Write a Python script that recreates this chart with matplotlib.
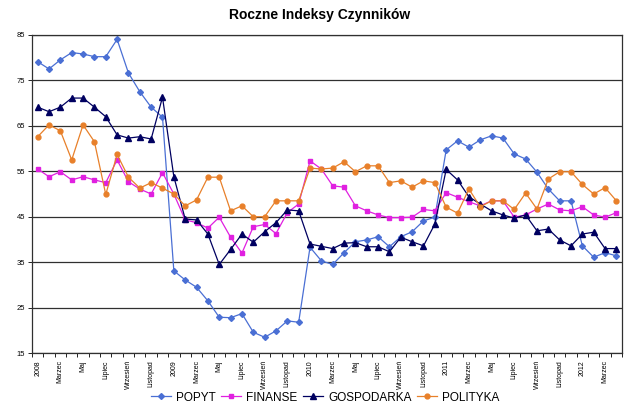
import matplotlib
matplotlib.use("Agg")
import matplotlib.pyplot as plt
import numpy as np

plt.rcParams['font.family'] = ['Liberation Sans', 'DejaVu Sans']

# monthly values, Jan 2008 - Apr 2012
popyt = [79.1, 77.5, 79.5, 81.1, 80.8, 80.2, 80.2, 84.0, 76.6, 72.5, 69.1, 66.9,
         33.1, 31.1, 29.5, 26.5, 22.9, 22.8, 23.7, 19.6, 18.5, 19.9, 22.1, 21.8,
         38.3, 35.3, 34.5, 37.1, 39.5, 39.9, 40.6, 38.4, 40.6, 41.7, 44.1, 44.9,
         59.7, 61.7, 60.3, 61.9, 62.8, 62.3, 58.8, 57.7, 54.8, 51.1, 48.5, 48.5,
         38.6, 36.1, 37.1, 36.4]
finanse = [55.5, 53.8, 54.9, 53.1, 53.8, 53.1, 52.5, 57.5, 52.7, 51.1, 50.0, 54.7,
           50.0, 44.3, 43.7, 42.5, 44.9, 40.5, 37.0, 42.8, 43.3, 41.3, 45.9, 47.8,
           57.3, 55.5, 51.8, 51.5, 47.4, 46.3, 45.4, 44.8, 44.8, 44.9, 46.6, 46.3,
           50.3, 49.3, 48.3, 47.4, 48.5, 48.5, 44.9, 45.4, 46.7, 47.8, 46.5, 46.3,
           47.2, 45.4, 44.9, 45.9]
gospodarka = [69.1, 68.1, 69.1, 71.1, 71.1, 69.1, 67.0, 63.0, 62.3, 62.6, 62.1, 71.3,
              53.8, 44.5, 44.3, 41.2, 34.5, 37.8, 41.2, 39.4, 41.7, 43.7, 46.5, 46.3,
              39.0, 38.5, 38.0, 39.2, 39.3, 38.4, 38.4, 37.3, 40.5, 39.5, 38.6, 43.4,
              55.4, 53.1, 49.4, 47.8, 46.3, 45.4, 44.7, 45.4, 41.9, 42.3, 39.9, 38.6,
              41.2, 41.6, 38.0, 38.0]
polityka = [62.6, 65.2, 63.9, 57.5, 65.2, 61.5, 49.9, 58.7, 53.7, 51.3, 52.5, 51.3,
            50.0, 47.4, 48.7, 53.7, 53.7, 46.3, 47.4, 45.0, 45.0, 48.5, 48.5, 48.5,
            55.7, 55.5, 55.7, 57.1, 54.9, 56.2, 56.2, 52.5, 52.9, 51.5, 52.9, 52.5,
            47.1, 45.8, 51.1, 47.2, 48.5, 48.5, 46.6, 50.2, 46.7, 53.3, 54.9, 54.9,
            52.1, 50.0, 51.4, 48.5]

years = ["2008", "2009", "2010", "2011", "2012"]
months = ["", "", "Marzec", "", "Maj", "", "Lipiec", "", "Wrzesień", "", "Listopad", ""]
labels = []
for y in years:
    for m in range(12):
        labels.append(y if m == 0 else months[m])
labels = labels[:len(popyt)]

x = np.arange(len(popyt))

fig = plt.figure(figsize=(6.4, 4.15), dpi=100)
ax = fig.add_axes([0.05, 0.149, 0.922, 0.767])

series = [
    ("POPYT", popyt, "#4a6fd4", "D", 3.0),
    ("FINANSE", finanse, "#e020e0", "s", 3.5),
    ("GOSPODARKA", gospodarka, "#000060", "^", 4.0),
    ("POLITYKA", polityka, "#e8802a", "o", 3.5),
]
for name, vals, col, mk, ms in series:
    ax.plot(x, vals, color=col, marker=mk, markersize=ms, linewidth=0.9, label=name)

ax.set_ylim(15, 85)
ax.set_yticks(np.arange(15, 86, 10))
ax.yaxis.grid(True, color="#303030", linewidth=0.9)
ax.set_axisbelow(True)
ax.tick_params(axis="y", labelsize=5.5, length=3, width=0.6, pad=2)

ax.set_xlim(-0.5, len(x) - 0.5)
ax.set_xticks(x)
ax.set_xticklabels(labels, rotation=90, fontsize=5)
ax.set_xticks(np.arange(-0.5, len(x), 1), minor=True)
ax.tick_params(axis="x", which="major", length=0, pad=5)
ax.tick_params(axis="x", which="minor", length=3, width=0.6)

for s in ax.spines.values():
    s.set_color("#303030")
    s.set_linewidth(0.9)

fig.suptitle("Roczne Indeksy Czynników", y=0.98, fontsize=10, fontweight="bold")
fig.legend(loc="center", bbox_to_anchor=(0.508, 0.042), ncol=4, frameon=False,
           fontsize=8.5, handlelength=1.7, columnspacing=0.5, handletextpad=0.4)

fig.savefig("out.png", dpi=100)
